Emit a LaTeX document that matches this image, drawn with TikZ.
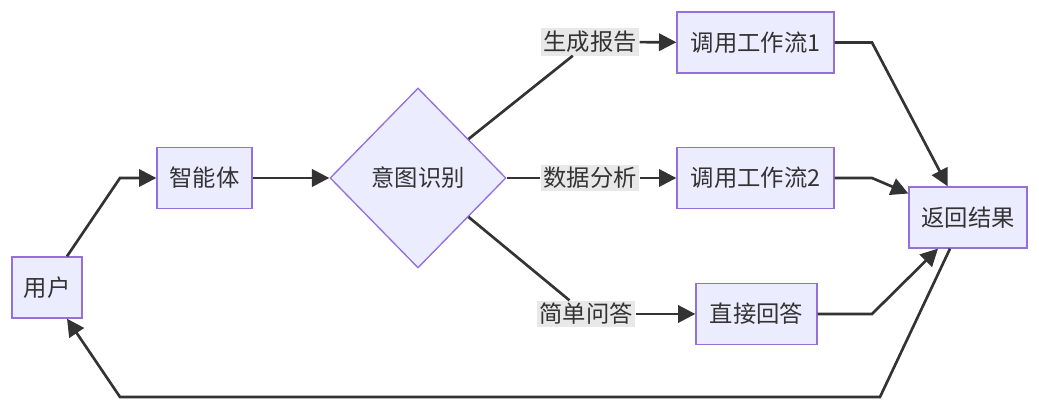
\documentclass[tikz,border=0pt]{standalone}
\usepackage{fontspec}
\newfontfamily\cjk{Noto Sans CJK SC}
\usetikzlibrary{shapes.geometric,arrows.meta,calc}
\definecolor{nodefill}{HTML}{ECECFF}
\definecolor{nodeline}{HTML}{9370DB}
\definecolor{edgec}{HTML}{333333}
\definecolor{lblbg}{HTML}{E8E8E8}
\begin{document}
\begin{tikzpicture}[x=0.75pt,y=-0.75pt,
  font=\cjk\fontsize{17.5}{20}\selectfont,
  box/.style={draw=nodeline, fill=nodefill, line width=1pt, inner sep=0pt, text=edgec, minimum height=45.75pt},
  lbl/.style={fill=lblbg, inner sep=2pt, text=edgec},
  conn/.style={draw=edgec, line width=2pt},
  arr/.style={conn, -{Triangle[length=13pt,width=13pt]}}]
\useasboundingbox (0,0) rectangle (1039,409);
% nodes
\node[box, minimum width=52.5pt] (u) at (47,287.5) {用户};
\node[box, minimum width=71.25pt] (a) at (204.5,178) {智能体};
\node[box, diamond, minimum width=132pt, minimum height=135pt] (d) at (418,178) {意图识别};
\node[box, minimum width=117.75pt] (w1) at (755.5,42.5) {调用工作流1};
\node[box, minimum width=117.75pt] (w2) at (755.5,178) {调用工作流2};
\node[box, minimum width=90.75pt] (qa) at (756.5,314) {直接回答};
\node[box, minimum width=88.5pt] (r) at (968,217.5) {返回结果};
% edge labels
\node[lbl] (l1) at (590,42) {生成报告};
\node[lbl] (l2) at (590,178) {数据分析};
\node[lbl] (l3) at (586,314) {简单问答};
% bend coordinates
\coordinate (ua) at (120,178);
\coordinate (b1) at (872,42.5);
\coordinate (b2) at (872,178);
\coordinate (b3) at (872,314);
\coordinate (bl) at (880,397);
\coordinate (br) at (120,397);
% connectors
\draw[arr] ($(u.north)+(20,0)$) -- (ua) -- (a);
\draw[arr] (a) -- (d);
\draw[conn] ($(d.north)!0.57!(d.east)$) -- (l1);
\draw[arr] (l1) -- (w1);
\draw[conn] (d.east) -- (l2);
\draw[arr] (l2) -- (w2);
\draw[conn] ($(d.south)!0.57!(d.east)$) -- (l3);
\draw[arr] (l3) -- (qa);
\draw[arr] (w1.east) -- (b1) -- ($(r.north west)!0.33!(r.north east)$);
\draw[arr] (w2.east) -- (b2) -- ($(r.west)+(0,-24)$);
\draw[arr] (qa.east) -- (b3) -- ($(r.south)+(-30,0)$);
\draw[arr] ($(r.south)+(-18,0)$) -- (bl) -- (br) -- ($(u.south)+(20,0)$);
\end{tikzpicture}
\end{document}
